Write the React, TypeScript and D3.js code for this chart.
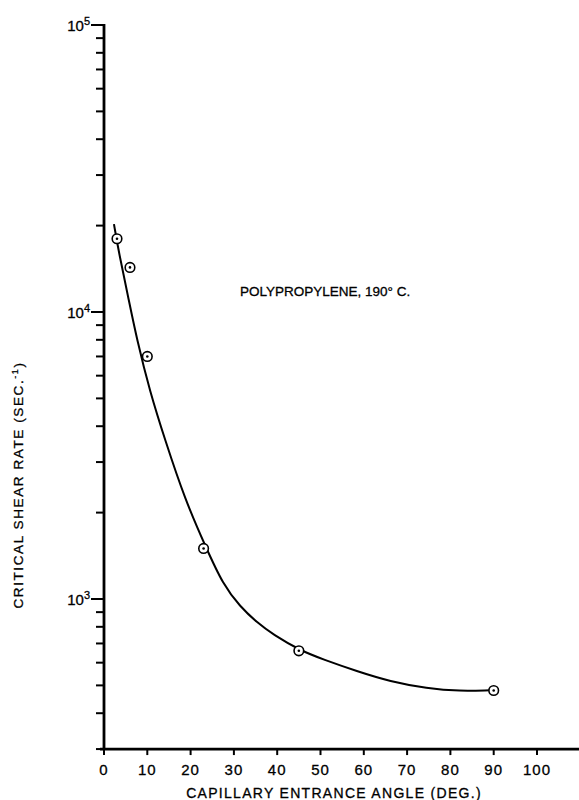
import React from 'react';
import * as d3 from 'd3';

// measured points (angle in degrees, critical shear rate in 1/sec)
const angles = [3, 6, 10, 23, 45, 90];
const rates = [18000, 14300, 7000, 1500, 660, 480];

// hand-drawn smooth curve through the data
const curveAngles = [2.3, 3.46, 5.54, 7.62, 10.62, 14.09, 18.71, 23.56, 27.48, 31.41, 35.33, 39.03, 45.27, 50.58, 58.43, 66.05, 74.6, 82.2, 89.1];
const curveRates = [20230, 16030, 11370, 7990, 5270, 3587, 2219, 1511, 1123, 942, 828, 752, 662, 616, 560, 516, 488, 477, 481];

const xTicks = [0, 10, 20, 30, 40, 50, 60, 70, 80, 90, 100];
const yDecades = [3, 4, 5];

const W = 579;
const H = 800;
const FONT = '"Liberation Sans", Arial, sans-serif';

const App = () => {
  const x = d3.scaleLinear().domain([0, 100]).range([104, 537]);
  const y = d3.scaleLog().domain([1000, 10000]).range([599, 312]);
  const yMin = 300;
  const yMax = 100000;

  // minor ticks: 2..9 x 10^n inside the domain
  const minor: number[] = [];
  for (let e = 2; e <= 4; e++) {
    for (let m = 2; m <= 9; m++) {
      const v = m * Math.pow(10, e);
      if (v >= yMin && v < yMax) minor.push(v);
    }
  }

  const line = d3.line<number>()
    .x((_, i) => x(curveAngles[i]))
    .y((_, i) => y(curveRates[i]))
    .curve(d3.curveBasis);

  const x0 = x(0);
  const yBottom = y(yMin);
  const yTop = y(yMax);

  return (
    <div style={{ position: 'absolute', left: 0, top: 0 }}>
      <svg width={W} height={H} style={{ display: 'block', background: '#fff' }} fontFamily={FONT}>
        {/* axes */}
        <line x1={x0} x2={x0} y1={yTop - 1} y2={yBottom + 1} stroke="#000" strokeWidth={2.8} />
        <line x1={x0 - 4} x2={W} y1={yBottom} y2={yBottom} stroke="#000" strokeWidth={2.8} />

        {/* y minor ticks */}
        {minor.map(v => (
          <line key={'m' + v} x1={x0 - 8} x2={x0} y1={y(v)} y2={y(v)} stroke="#000" strokeWidth={2} />
        ))}
        {/* y decade ticks and labels */}
        {yDecades.map(e => {
          const yy = y(Math.pow(10, e));
          return (
            <g key={'d' + e}>
              <line x1={x0 - 13} x2={x0} y1={yy} y2={yy} stroke="#000" strokeWidth={2} />
              <text x={x0 - 14} y={yy + 6} textAnchor="end" fontSize={15} stroke="#000" strokeWidth={0.3}>
                <tspan>10</tspan>
                <tspan dy={-6} fontSize={11}>{e}</tspan>
              </text>
            </g>
          );
        })}

        {/* x ticks */}
        {xTicks.map(t => (
          <g key={'x' + t}>
            <line x1={x(t)} x2={x(t)} y1={yBottom} y2={yBottom + 6} stroke="#000" strokeWidth={2} />
            <text x={x(t)} y={yBottom + 26} textAnchor="middle" fontSize={15} letterSpacing={1} stroke="#000" strokeWidth={0.3}>{t}</text>
          </g>
        ))}

        {/* axis titles */}
        <text x={334} y={798} textAnchor="middle" fontSize={14} letterSpacing={1.3} stroke="#000" strokeWidth={0.3}>
          CAPILLARY ENTRANCE ANGLE  (DEG.)
        </text>
        <text transform="translate(23,485) rotate(-90)" textAnchor="middle" fontSize={13.5} letterSpacing={1.6} stroke="#000" strokeWidth={0.3}>
          CRITICAL SHEAR RATE (SEC.<tspan dy={-5} fontSize={9}>-1</tspan><tspan dy={5}>)</tspan>
        </text>

        <text x={240} y={296} fontSize={13.5} stroke="#000" strokeWidth={0.3}>POLYPROPYLENE, 190° C.</text>

        {/* fitted curve */}
        <path d={line(curveRates) || ''} fill="none" stroke="#000" strokeWidth={2} />

        {/* data markers */}
        {angles.map((a, i) => (
          <g key={'p' + i}>
            <circle cx={x(a)} cy={y(rates[i])} r={4.8} fill="#fff" stroke="#000" strokeWidth={1.6} />
            <circle cx={x(a)} cy={y(rates[i])} r={1.3} fill="#000" />
          </g>
        ))}
      </svg>
    </div>
  );
};

export default App;
